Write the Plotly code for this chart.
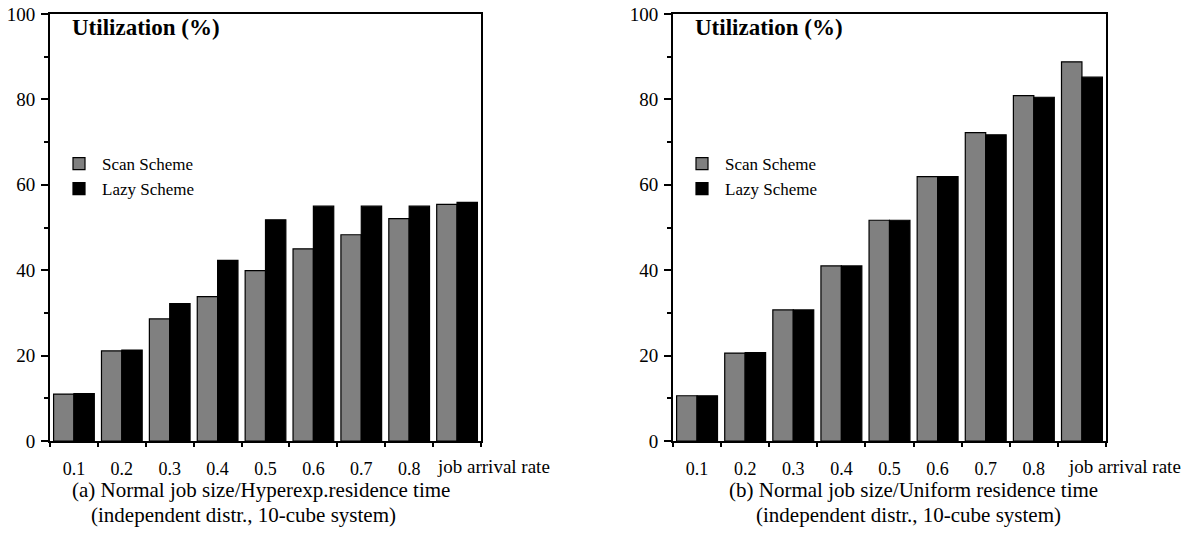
import plotly.graph_objects as go

# ---------------- data ----------------
categories = ["0.1", "0.2", "0.3", "0.4", "0.5", "0.6", "0.7", "0.8", "0.9"]
tick_labels = ["0.1", "0.2", "0.3", "0.4", "0.5", "0.6", "0.7", "0.8"]
series_names = ["Scan Scheme", "Lazy Scheme"]

scan_a = [11.0, 21.1, 28.6, 33.8, 39.9, 45.0, 48.3, 52.1, 55.4]
lazy_a = [11.1, 21.3, 32.2, 42.3, 51.8, 55.0, 55.0, 55.0, 55.9]

scan_b = [10.6, 20.6, 30.7, 41.0, 51.7, 61.9, 72.2, 80.9, 88.8]
lazy_b = [10.6, 20.7, 30.7, 41.0, 51.7, 61.9, 71.7, 80.5, 85.2]

y_title = "Utilization (%)"
x_title = "job arrival rate"
caption_a = ["(a) Normal job size/Hyperexp.residence time",
             "(independent distr., 10-cube system)"]
caption_b = ["(b) Normal job size/Uniform residence time",
             "(independent distr., 10-cube system)"]

# ---------------- styling ----------------
FONT = "Liberation Serif, Times New Roman, serif"
GRAY = "#808080"
BLACK = "#000000"
W, H = 1198, 540

xpos = list(range(1, len(categories) + 1))

fig = go.Figure()

def add_pair(scan, lazy, xa, ya, legend):
    for name, vals, col in [(series_names[0], scan, GRAY), (series_names[1], lazy, BLACK)]:
        fig.add_trace(go.Bar(
            x=xpos, y=vals, name=name, xaxis=xa, yaxis=ya, legend=legend,
            marker=dict(color=col, line=dict(color=BLACK, width=1.2)),
            hoverinfo="skip",
        ))

add_pair(scan_a, lazy_a, "x", "y", "legend")
add_pair(scan_b, lazy_b, "x2", "y2", "legend2")

ydom = [99 / H, 526 / H]
xdom_a = [50 / W, 481 / W]
xdom_b = [673 / W, 1106 / W]

def xaxis(dom, anchor):
    return dict(
        domain=dom, anchor=anchor, range=[0.5, len(categories) + 0.5],
        tickmode="array", tickvals=xpos[:len(tick_labels)], ticktext=tick_labels,
        ticks="", ticklabelstandoff=10, automargin=False,
        minor=dict(tickmode="linear", tick0=0.5, dtick=1, ticks="outside",
                   ticklen=4, tickwidth=2, tickcolor=BLACK),
        showline=True, linecolor=BLACK, linewidth=2, mirror=True,
        showgrid=False, zeroline=False, fixedrange=True,
        tickfont=dict(family=FONT, size=18, color=BLACK),
    )

def yaxis(anchor):
    return dict(
        domain=ydom, anchor=anchor, range=[0, 100], automargin=False,
        tickmode="linear", tick0=0, dtick=20, ticklabelstandoff=2,
        ticks="outside", ticklen=7, tickwidth=2, tickcolor=BLACK,
        minor=dict(tickmode="linear", tick0=0, dtick=10, ticks="outside",
                   ticklen=4, tickwidth=2, tickcolor=BLACK),
        showline=True, linecolor=BLACK, linewidth=2, mirror=True,
        showgrid=False, zeroline=False, fixedrange=True,
        tickfont=dict(family=FONT, size=19, color=BLACK),
    )

legend_common = dict(
    font=dict(family=FONT, size=17, color=BLACK),
    bgcolor="rgba(0,0,0,0)", borderwidth=0, itemwidth=36,
    xanchor="left", yanchor="top", tracegroupgap=0,
    traceorder="normal", itemclick=False, itemdoubleclick=False,
)

fig.update_layout(
    width=W, height=H, autosize=False,
    margin=dict(l=0, r=0, t=0, b=0, autoexpand=False),
    paper_bgcolor="white", plot_bgcolor="white",
    barmode="group", bargap=0.15, bargroupgap=0.0,
    showlegend=True,
    xaxis=xaxis(xdom_a, "y"), yaxis=yaxis("x"),
    xaxis2=xaxis(xdom_b, "y2"), yaxis2=yaxis("x2"),
    legend=dict(x=56 / W, y=1 - 146 / H, **legend_common),
    legend2=dict(x=679 / W, y=1 - 146 / H, **legend_common),
    font=dict(family=FONT, color=BLACK),
)

annotations = []
for xr, cap, capx in [("x", caption_a, (261 / W, 243 / W)),
                      ("x2", caption_b, (914 / W, 908 / W))]:
    annotations.append(dict(
        text="<b>" + y_title + "</b>", xref=xr + " domain", yref="paper",
        x=0.046, y=1 - 28 / H, xanchor="left", yanchor="middle", showarrow=False,
        font=dict(family=FONT, size=23, color=BLACK)))
    annotations.append(dict(
        text=x_title, xref=xr + " domain", yref="paper",
        x=0.893 if xr == "x" else 0.907, y=1 - 466 / H,
        xanchor="left", yanchor="middle", showarrow=False,
        font=dict(family=FONT, size=19, color=BLACK)))
    for line, cx, cy in [(cap[0], capx[0], 490), (cap[1], capx[1], 515)]:
        annotations.append(dict(
            text=line, xref="paper", yref="paper", x=cx, y=1 - cy / H,
            xanchor="center", yanchor="middle", showarrow=False,
            font=dict(family=FONT, size=21, color=BLACK)))

fig.update_layout(annotations=annotations)

fig.write_html("out.html", config=dict(displayModeBar=False, staticPlot=True))
